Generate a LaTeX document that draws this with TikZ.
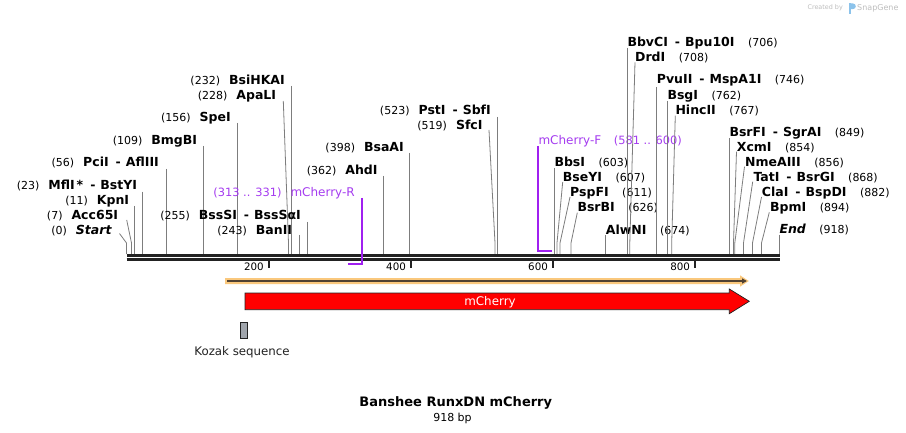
\documentclass[tikz,border=0pt]{standalone}
\usepackage{fontspec}
\setmainfont{DejaVu Sans}
\usetikzlibrary{arrows.meta}
\definecolor{cutgray}{RGB}{125,125,125}
\definecolor{primerc}{RGB}{160,32,240}
\definecolor{primert}{RGB}{165,60,240}
\definecolor{seqc}{RGB}{34,34,34}
\definecolor{orf}{RGB}{250,200,125}
\definecolor{orfline}{RGB}{80,65,50}
\definecolor{kozakc}{RGB}{160,165,172}
\definecolor{sgray}{RGB}{190,190,190}
\definecolor{slogo}{RGB}{140,195,235}
\newcommand\numfnt{\fontsize{11}{13}\selectfont\mdseries}
\newcommand\namfnt{\fontsize{12.5}{14}\selectfont\bfseries}
\newcommand\dsh{\hspace{7pt}-\hspace{5pt}}
\newcommand\labL[2]{{\numfnt(#1)}\hspace{9pt}{\namfnt #2}}
\newcommand\labR[2]{{\namfnt #1}\hspace{13.5pt}{\numfnt(#2)}}
\newcommand\siteline[4]{%
  \coordinate (#1t) at (#2,#3);
  \coordinate (#1b) at (#4,243);
  \coordinate (#1s) at (#4,254);
  \draw[cut] (#1t) -- (#1b) -- (#1s);}
\begin{document}
\begin{tikzpicture}[x=1pt,y=-1pt,
  cut/.style={draw=cutgray,line width=0.8pt},
  lblL/.style={anchor=base east,inner sep=0pt},
  lblR/.style={anchor=base west,inner sep=0pt},
  primer/.style={draw=primerc,line width=2pt},
  seqline/.style={draw=seqc,line width=2.7pt},
  tickmark/.style={draw=seqc,line width=2pt},
  ticklab/.style={anchor=east,inner sep=0pt,font=\fontsize{10.3}{12}\selectfont}]
\useasboundingbox[fill=white] (0,0) rectangle (906,433);

% credit
\node[anchor=base east,inner sep=0pt,text=sgray,font=\fontsize{6.4}{8}\selectfont] (cr1) at (843,10) {Created by};
\fill[slogo] (848.5,3.5) rectangle (851,14);
\fill[slogo] (851,3.5) -- (853,3.5) arc[start angle=90,end angle=-90,radius=2.8pt] -- (851,9.1) -- cycle;
\node[anchor=base west,inner sep=0pt,text=sgray,font=\fontsize{8}{10}\selectfont] (cr2) at (857,10.5) {SnapGene};

% sequence
\coordinate (seqA) at (126.5,255.3); \coordinate (seqB) at (779.5,255.3);
\coordinate (seqC) at (126.5,259.3); \coordinate (seqD) at (779.5,259.3);
\draw[seqline] (seqA) -- (seqB);
\draw[seqline] (seqC) -- (seqD);
\foreach \x/\t in {268.5/200,410.6/400,552.6/600,694.7/800}{
  \coordinate (tk\t) at (\x,260);
  \draw[tickmark] (tk\t) -- ++(0,8);
  \node[ticklab] (tl\t) at (\x-4.5,266.7) {\t};
}

% left labels
\node[lblL] (lStart) at (111.7,234.4) {\labL{0}{\itshape Start}};
\siteline{cStart}{119.5}{233.5}{126.5}
\node[lblL] (lAcc) at (118.3,219.4) {\labL{7}{Acc65I}};
\siteline{cAcc}{126.7}{220}{131.5}
\node[lblL] (lKpn) at (129.3,204.4) {\labL{11}{KpnI}};
\siteline{cKpn}{134.5}{206}{134.5}
\node[lblL] (lMfl) at (137.3,189.4) {\labL{23}{MflI\hspace{2pt}*\dsh BstYI}};
\siteline{cMfl}{142.7}{191.7}{142.7}
\node[lblL] (lPci) at (159,166.1) {\labL{56}{PciI\dsh AflIII}};
\siteline{cPci}{166.5}{169}{166.5}
\node[lblL] (lBmg) at (197.3,144.4) {\labL{109}{BmgBI}};
\siteline{cBmg}{203.7}{146}{203.7}
\node[lblL] (lSpe) at (231,121.1) {\labL{156}{SpeI}};
\siteline{cSpe}{237.7}{123}{237.7}
\node[lblL] (lApa) at (276.3,99.4) {\labL{228}{ApaLI}};
\siteline{cApa}{283.3}{101}{288.5}
\node[lblL] (lBsi) at (285,84.4) {\labL{232}{BsiHKAI}};
\siteline{cBsi}{291.7}{86}{291.7}
\node[lblL] (lBss) at (301,219.4) {\labL{255}{BssSI\dsh BssSαI}};
\siteline{cBss}{307.3}{222}{307.3}
\node[lblL] (lBan) at (292.3,234.4) {\labL{243}{BanII}};
\siteline{cBan}{299.7}{235}{299.7}
\node[lblL] (lAhd) at (377.7,174.4) {\labL{362}{AhdI}};
\siteline{cAhd}{383.3}{176}{383.3}
\node[lblL] (lBsa) at (404,151.1) {\labL{398}{BsaAI}};
\siteline{cBsa}{409.3}{153}{409.3}
\node[lblL] (lSfc) at (482.7,129.4) {\labL{519}{SfcI}};
\siteline{cSfc}{489}{130}{495}
\node[lblL] (lPst) at (491,114.4) {\labL{523}{PstI\dsh SbfI}};
\siteline{cPst}{497.7}{117}{497.7}

% primers
\node[lblL,text=primert] (lPrR) at (355,196.3) {{\fontsize{11.4}{13}\selectfont(313 .. 331)}\hspace{9pt}{\fontsize{12}{14}\selectfont mCherry-R}};
\coordinate (pRt) at (361.7,198); \coordinate (pRb) at (361.7,264); \coordinate (pRe) at (348.3,264);
\draw[primer] (pRt) -- (pRb) -- (pRe);
\node[lblR,text=primert] (lPrF) at (538.3,144.4) {{\fontsize{12}{14}\selectfont mCherry-F}\hspace{12.5pt}{\fontsize{11.4}{13}\selectfont(581 .. 600)}};
\coordinate (pFt) at (538.3,146); \coordinate (pFb) at (538.3,251); \coordinate (pFe) at (551.7,251);
\draw[primer] (pFt) -- (pFb) -- (pFe);

% right labels
\node[lblR] (rBbs) at (554.3,166.1) {\labR{BbsI}{603}};
\siteline{cBbs}{554.5}{168}{554.5}
\node[lblR] (rBse) at (562.7,181.1) {\labR{BseYI}{607}};
\siteline{cBse}{562.7}{182}{557}
\node[lblR] (rPsp) at (570,196.1) {\labR{PspFI}{611}};
\siteline{cPsp}{570}{197}{560}
\node[lblR] (rBsr) at (577.3,211.7) {\labR{BsrBI}{626}};
\siteline{cBsr}{577.3}{212.7}{571}
\node[lblR] (rAlw) at (605.7,234.4) {\labR{AlwNI}{674}};
\siteline{cAlw}{605.7}{235}{605.7}
\node[lblR] (rBbv) at (627.3,46.1) {\labR{BbvCI\dsh Bpu10I}{706}};
\siteline{cBbv}{627.7}{48}{627.7}
\node[lblR] (rDrd) at (635,61.7) {\labR{DrdI}{708}};
\siteline{cDrd}{635}{62.3}{629.8}
\node[lblR] (rPvu) at (656.7,83.7) {\labR{PvuII\dsh MspA1I}{746}};
\siteline{cPvu}{656.7}{87}{656.7}
\node[lblR] (rBsg) at (667.3,99.4) {\labR{BsgI}{762}};
\siteline{cBsg}{667.5}{101}{667.5}
\node[lblR] (rHin) at (675.3,114.4) {\labR{HincII}{767}};
\siteline{cHin}{675.3}{115.7}{671.7}
\node[lblR] (rBsf) at (729.3,136.1) {\labR{BsrFI\dsh SgrAI}{849}};
\siteline{cBsf}{729.5}{138.3}{729.5}
\node[lblR] (rXcm) at (736.7,151.7) {\labR{XcmI}{854}};
\siteline{cXcm}{736.5}{151.7}{733.5}
\node[lblR] (rNme) at (745,166.1) {\labR{NmeAIII}{856}};
\siteline{cNme}{744.5}{166.7}{734.8}
\node[lblR] (rTat) at (753.3,181.1) {\labR{TatI\dsh BsrGI}{868}};
\siteline{cTat}{752.7}{181.7}{743.5}
\node[lblR] (rCla) at (761.7,196.1) {\labR{ClaI\dsh BspDI}{882}};
\siteline{cCla}{761.5}{197}{752.5}
\node[lblR] (rBpm) at (770,211.1) {\labR{BpmI}{894}};
\siteline{cBpm}{769.3}{212.3}{761.5}
\node[lblR] (rEnd) at (779.3,233.7) {\labR{\itshape End}{918}};
\siteline{cEnd}{779.3}{235}{779.3}

% ORF
\fill[orf] (225,278) -- (740,278) -- (740,275.3) -- (748.8,281) -- (740,286.7) -- (740,284) -- (225,284) -- cycle;
\coordinate (orfA) at (227,281); \coordinate (orfB) at (747,281);
\draw[orfline,line width=1.4pt,-{Triangle[length=5pt,width=5pt]}] (orfA) -- (orfB);

% mCherry feature
\draw[fill=red,draw=seqc,line width=0.7pt] (245,293) -- (729.3,293) -- (729.3,289) -- (749.3,301.3) -- (729.3,313.7) -- (729.3,309.7) -- (245,309.7) -- cycle;
\node[anchor=base,inner sep=0pt,text=white,font=\fontsize{11.9}{14}\selectfont] (mch) at (490,305.6) {mCherry};

% Kozak
\node[draw=seqc,fill=kozakc,line width=0.7pt,minimum width=7.4pt,minimum height=16.7pt,inner sep=0pt] (koz) at (244,330.4) {};
\node[anchor=base,inner sep=0pt,text=seqc,font=\fontsize{11.8}{14}\selectfont] (kozl) at (242,355.5) {Kozak sequence};

% title
\node[anchor=base,inner sep=0pt,font=\fontsize{13}{15}\selectfont\bfseries] (title) at (455.8,406.4) {Banshee RunxDN mCherry};
\node[anchor=base,inner sep=0pt,font=\fontsize{11}{13}\selectfont] (bp) at (452.5,421) {918 bp};
\end{tikzpicture}
\end{document}
